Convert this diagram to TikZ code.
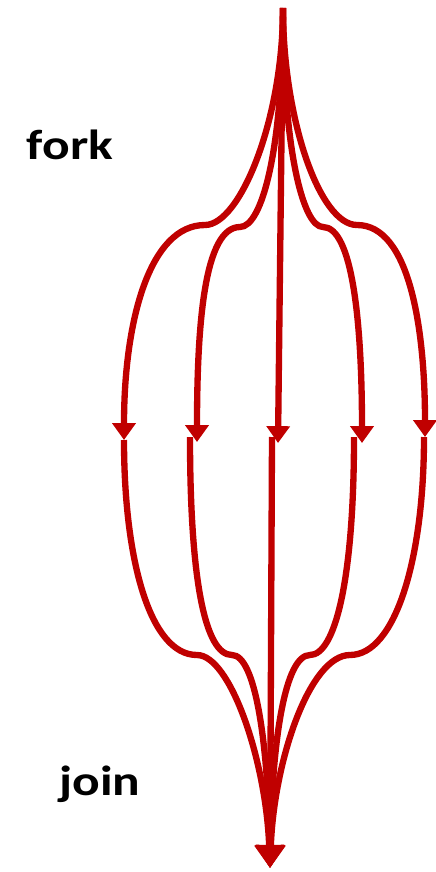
\documentclass[tikz,border=0pt]{standalone}
\usepackage{fontspec}
\setmainfont{Carlito}
\usepackage{graphicx}
\usetikzlibrary{arrows.meta}
\definecolor{forkred}{HTML}{C00000}

\begin{document}
\begin{tikzpicture}[
    x=0.02cm, y=-0.02cm,   % one unit is one pixel of the reference
    flow/.style={draw=forkred, line width=3.6pt},
    fan/.style={flow, -{Triangle[length=9.6pt,width=13pt]}},
    merge/.style={flow, -{Triangle[length=13pt,width=16pt]}},
    lbl/.style={font=\bfseries\fontsize{24}{28}\selectfont, inner sep=0pt}
]
\useasboundingbox (0,0) rectangle (436,872);

% fork point and the five arrow tips
\coordinate (top) at (283,8);
\coordinate (a1) at (124,440);
\coordinate (a2) at (197,442);
\coordinate (a3) at (278,443);
\coordinate (a4) at (362,443);
\coordinate (a5) at (425,437);
% shoulders of the upper curves
\coordinate (u1) at (205,225);
\coordinate (u2) at (240,227);
\coordinate (u4) at (323,227);
\coordinate (u5) at (357,225);

% fork
\draw[fan] (top) .. controls (283,120) and (240,225) .. (u1)
                 .. controls (150,225) and (124,320) .. (a1);
\draw[fan] (top) .. controls (283,150) and (262,227) .. (u2)
                 .. controls (205,227) and (197,320) .. (a2);
\draw[fan] (top) -- (a3);
\draw[fan] (top) .. controls (283,150) and (303,227) .. (u4)
                 .. controls (352,227) and (362,320) .. (a4);
\draw[fan] (top) .. controls (283,120) and (320,225) .. (u5)
                 .. controls (410,225) and (425,330) .. (a5);

% start of the lower branches and join point
\coordinate (s1) at (124,440);
\coordinate (s2) at (190,437);
\coordinate (s3) at (272,437);
\coordinate (s4) at (354,437);
\coordinate (s5) at (424,437);
\coordinate (l1) at (197,655);
\coordinate (l2) at (232,655);
\coordinate (l4) at (310,655);
\coordinate (l5) at (350,655);
\coordinate (bottom) at (270,868);

% join
\draw[merge] (s1) .. controls (124,560) and (150,655) .. (l1)
                  .. controls (230,655) and (266,760) .. (bottom);
\draw[merge] (s2) .. controls (190,580) and (205,655) .. (l2)
                  .. controls (255,655) and (268,740) .. (bottom);
\draw[merge] (s3) -- (bottom);
\draw[merge] (s4) .. controls (354,580) and (335,655) .. (l4)
                  .. controls (285,655) and (272,740) .. (bottom);
\draw[merge] (s5) .. controls (424,560) and (395,655) .. (l5)
                  .. controls (310,655) and (274,760) .. (bottom);

\node[lbl] (forklbl) at (70,145) {\scalebox{1.22}[1]{fork}};
\node[lbl] (joinlbl) at (100,784) {\scalebox{1.22}[1]{join}};
\end{tikzpicture}
\end{document}
